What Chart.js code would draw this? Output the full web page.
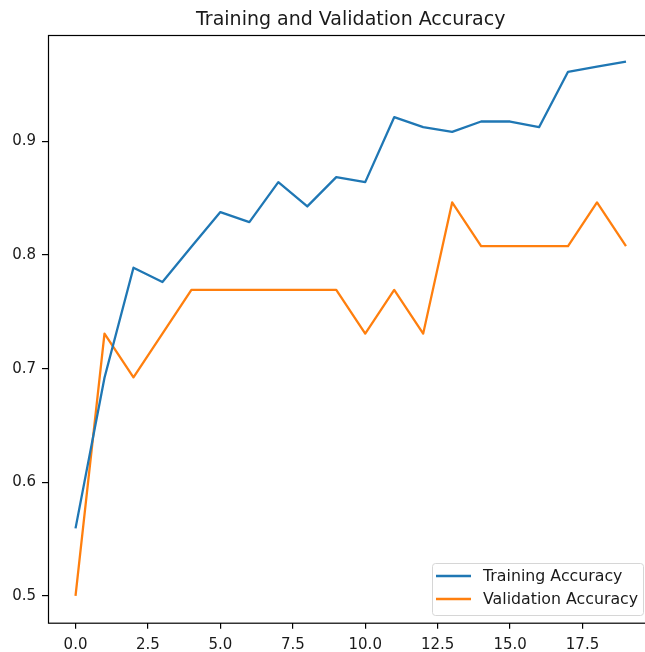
<!DOCTYPE html>
<html>
<head>
<meta charset="utf-8">
<script src="https://cdn.jsdelivr.net/npm/chart.js@4.4.1/dist/chart.umd.min.js"></script>
<style>
  html, body { margin: 0; padding: 0; background: #fff; overflow: hidden; }
  #wrap { width: 702px; height: 652px; }
</style>
</head>
<body>
<div id="wrap"><canvas id="accChart" width="702" height="652"></canvas></div>
<script>
// epochs and accuracy values
const epochs = [0, 1, 2, 3, 4, 5, 6, 7, 8, 9, 10, 11, 12, 13, 14, 15, 16, 17, 18, 19];
const trainAcc = [0.5595, 0.692, 0.7888, 0.7762, 0.8073, 0.8377, 0.8289, 0.8641, 0.8427, 0.8685,
                  0.8641, 0.9212, 0.9124, 0.9083, 0.9174, 0.9174, 0.9124, 0.9611, 0.9657, 0.9701];
const valAcc = [0.5, 0.7308, 0.6923, 0.7308, 0.7692, 0.7692, 0.7692, 0.7692, 0.7692, 0.7692,
                0.7308, 0.7692, 0.7308, 0.8462, 0.8077, 0.8077, 0.8077, 0.8077, 0.8462, 0.8077];
const xTicks = [0, 2.5, 5, 7.5, 10, 12.5, 15, 17.5];
const yTicks = [0.5, 0.6, 0.7, 0.8, 0.9];

const FONT = '"DejaVu Sans", sans-serif';
const TEXT = '#1a1a1a';

// box around the plot area (matplotlib spines)
const frame = {
  id: 'frame',
  afterDatasetsDraw(chart) {
    const { ctx, chartArea: a } = chart;
    ctx.save();
    ctx.strokeStyle = '#000';
    ctx.lineWidth = 1.2;
    ctx.strokeRect(a.left + 0.5, a.top + 0.5, a.right - a.left, a.bottom - a.top);
    ctx.restore();
  }
};

// legend in the lower right corner, inside the axes
const legendBox = {
  id: 'legendBox',
  afterDraw(chart) {
    const { ctx, chartArea: a } = chart;
    const w = 211, h = 52;
    const x = Math.round(a.right - 10.5 - w), y = Math.round(a.bottom - 7.5 - h);
    ctx.save();
    ctx.fillStyle = 'rgba(255,255,255,0.8)';
    ctx.strokeStyle = '#d6d6d6';
    ctx.lineWidth = 1;
    ctx.beginPath();
    ctx.roundRect(x + 0.5, y + 0.5, w, h, 3);
    ctx.fill();
    ctx.stroke();
    ctx.font = '15.8px ' + FONT;
    ctx.textBaseline = 'middle';
    chart.data.datasets.forEach((ds, i) => {
      const ly = y + 13 + i * 23;
      ctx.strokeStyle = ds.borderColor;
      ctx.lineWidth = 2.3;
      ctx.beginPath();
      ctx.moveTo(x + 4, ly);
      ctx.lineTo(x + 39, ly);
      ctx.stroke();
      ctx.fillStyle = TEXT;
      ctx.fillText(ds.label, x + 51, ly + 1);
    });
    ctx.restore();
  }
};

const ctx = document.getElementById('accChart').getContext('2d');
new Chart(ctx, {
  type: 'line',
  data: {
    datasets: [{
      label: 'Training Accuracy',
      data: trainAcc.map((v, i) => ({ x: epochs[i], y: v })),
      borderColor: '#1f77b4',
      borderWidth: 2.3,
      pointRadius: 0,
      borderJoinStyle: 'round',
      tension: 0
    }, {
      label: 'Validation Accuracy',
      data: valAcc.map((v, i) => ({ x: epochs[i], y: v })),
      borderColor: '#ff7f0e',
      borderWidth: 2.3,
      pointRadius: 0,
      borderJoinStyle: 'round',
      tension: 0
    }]
  },
  options: {
    responsive: false,
    animation: false,
    layout: { padding: { left: 0, right: 48.5, top: 0, bottom: 0 } },
    plugins: {
      legend: { display: false },
      tooltip: { enabled: false },
      title: {
        display: true,
        fullSize: false,
        text: 'Training and Validation Accuracy',
        color: TEXT,
        font: { family: FONT, size: 19, weight: 'normal', lineHeight: 1.2 },
        padding: { top: 9.1, bottom: 3.1 }
      }
    },
    scales: {
      x: {
        type: 'linear',
        min: -0.95,
        max: 19.95,
        afterBuildTicks: s => { s.ticks = xTicks.map(v => ({ value: v })); },
        afterFit: s => { s.height = 29.3; },
        grid: { display: true, drawOnChartArea: false, drawTicks: true, tickLength: 6, tickColor: '#000', lineWidth: 1.2 },
        border: { display: false },
        ticks: {
          color: TEXT,
          padding: 7,
          maxRotation: 0,
          autoSkip: false,
          font: { family: FONT, size: 15 },
          callback: v => v.toFixed(1)
        }
      },
      y: {
        min: 0.4765,
        max: 0.9935,
        afterBuildTicks: s => { s.ticks = yTicks.map(v => ({ value: v })); },
        afterFit: s => { s.width = 48; },
        grid: { display: true, drawOnChartArea: false, drawTicks: true, tickLength: 6, tickColor: '#000', lineWidth: 1.2 },
        border: { display: false },
        ticks: {
          color: TEXT,
          padding: 6,
          autoSkip: false,
          font: { family: FONT, size: 15 },
          callback: v => v.toFixed(1)
        }
      }
    }
  },
  plugins: [frame, legendBox]
});
</script>
</body>
</html>
